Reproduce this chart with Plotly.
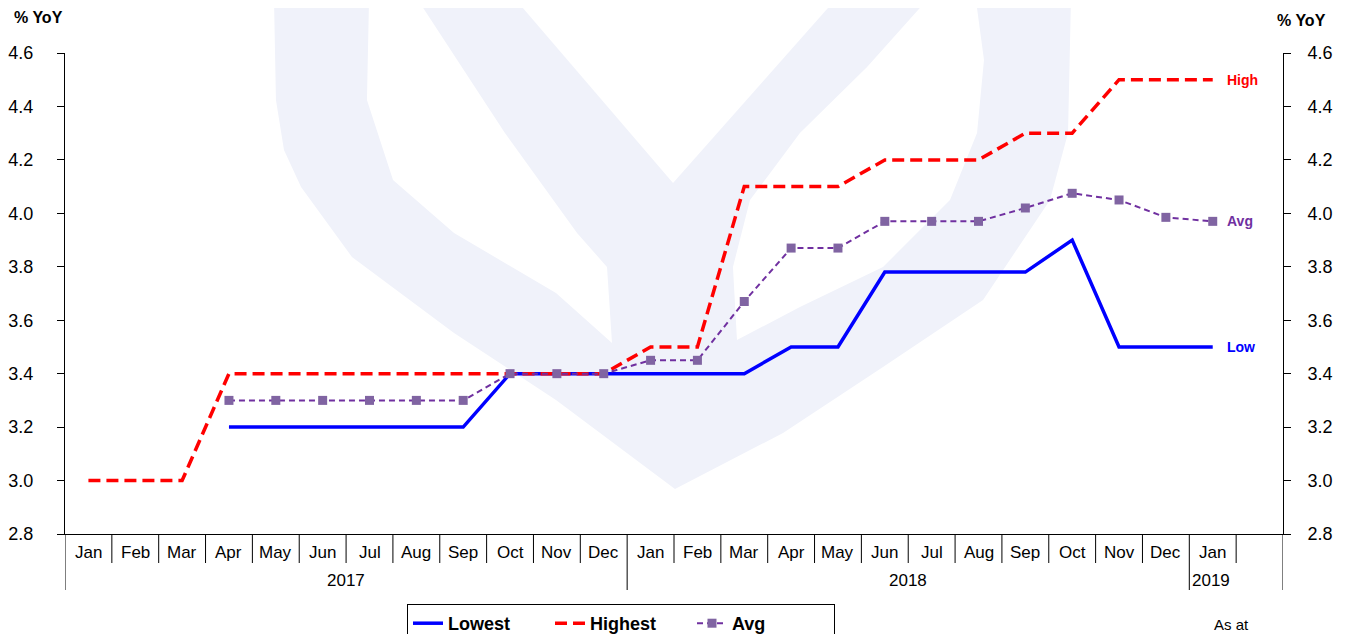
import plotly.graph_objects as go

# ---------------- data ----------------
months = ["Jan", "Feb", "Mar", "Apr", "May", "Jun", "Jul", "Aug", "Sep", "Oct", "Nov", "Dec",
          "Jan", "Feb", "Mar", "Apr", "May", "Jun", "Jul", "Aug", "Sep", "Oct", "Nov", "Dec",
          "Jan"]
years = ["2017", "2018", "2019"]
year_start = [0, 12, 24]          # first month index of each year
year_end = [12, 24, 25]           # one past last month index
n_slots = 26                      # 25 months + one empty slot

highest = [3.0, 3.0, 3.0, 3.4, 3.4, 3.4, 3.4, 3.4, 3.4, 3.4, 3.4, 3.4,
           3.5, 3.5, 4.1, 4.1, 4.1, 4.2, 4.2, 4.2, 4.3, 4.3, 4.5, 4.5, 4.5]
lowest = [None, None, None, 3.2, 3.2, 3.2, 3.2, 3.2, 3.2, 3.4, 3.4, 3.4,
          3.4, 3.4, 3.4, 3.5, 3.5, 3.78, 3.78, 3.78, 3.78, 3.9, 3.5, 3.5, 3.5]
avg = [None, None, None, 3.3, 3.3, 3.3, 3.3, 3.3, 3.3, 3.4, 3.4, 3.4,
       3.45, 3.45, 3.67, 3.87, 3.87, 3.97, 3.97, 3.97, 4.02, 4.075, 4.05, 3.985, 3.97]

y_range = [2.8, 4.6]

# ---------------- layout constants (window pixels) ----------------
WIN_W, WIN_H = 1349, 634
OFF = 8                            # default page body margin
W, H = WIN_W - OFF, WIN_H - OFF
L, R, T, B = 65, 1283, 53, 534     # plot area in window pixels
FONT = "Arial, Liberation Sans, sans-serif"
BLUE, RED, PURPLE, PMARK = "#0000FF", "#FF0000", "#7030A0", "#8064A2"
WM = "#F0F2FA"

x = [i + 0.5 for i in range(len(months))]


def pp(px, py):
    return (px - L) / (R - L), (B - py) / (B - T)


def path_from(points):
    pts = [pp(a, b) for a, b in points]
    s = "M %.4f %.4f " % pts[0]
    for p in pts[1:]:
        s += "L %.4f %.4f " % p
    return s + "Z"


fig = go.Figure()
fig.add_trace(go.Scatter(x=x, y=lowest, name="Lowest", mode="lines",
                         line=dict(color=BLUE, width=3.5)))
fig.add_trace(go.Scatter(x=x, y=highest, name="Highest", mode="lines",
                         line=dict(color=RED, width=3.5, dash="12px,6px")))
fig.add_trace(go.Scatter(x=x, y=avg, name="Avg", mode="lines+markers",
                         line=dict(color=PURPLE, width=2, dash="6px,4px"),
                         marker=dict(symbol="square", size=9, color=PMARK)))
# invisible trace to show the right-hand axis
fig.add_trace(go.Scatter(x=x, y=highest, yaxis="y2", mode="lines", opacity=0,
                         showlegend=False, hoverinfo="skip"))

shapes = []
# watermark (decoration)
outer = [(274, 0), (276, 100), (284, 150), (301, 187), (352, 257), (454, 333), (556, 400),
         (675, 489), (783, 433), (883, 367), (983, 300), (1050, 200), (1068, 133), (1071, 0)]
holeA = [(369, 0), (367, 100), (393, 180), (454, 233), (556, 293), (612, 343),
         (607, 267), (577, 233), (505, 133), (418, 0)]
holeB = [(516, 0), (673, 183), (835, 0)]
holeC = [(927, 0), (867, 67), (800, 133), (750, 200), (733, 267), (737, 340),
         (800, 307), (883, 267), (950, 200), (977, 133), (984, 60), (976, 0)]
shapes.append(dict(type="path", xref="paper", yref="paper", path=path_from(outer),
                   fillcolor=WM, line=dict(width=0), layer="below"))
for hole in (holeA, holeB, holeC):
    shapes.append(dict(type="path", xref="paper", yref="paper", path=path_from(hole),
                       fillcolor="white", line=dict(width=0), layer="below"))

# category dividers
month_bottom = pp(0, 563)[1]
year_bottom = pp(0, 590)[1]
year_lines = set(year_start + [n_slots])
for k in range(0, n_slots + 1):
    yb = year_bottom if k in year_lines else month_bottom
    shapes.append(dict(type="line", xref="x", yref="paper", x0=k, x1=k, y0=0, y1=yb,
                       line=dict(color="black", width=1), layer="above"))

annotations = []
lab_y = pp(0, 552)[1]
for xi, m in zip(x, months):
    annotations.append(dict(x=xi, y=lab_y, xref="x", yref="paper", text=m, showarrow=False,
                            font=dict(family=FONT, size=17, color="black"),
                            xanchor="center", yanchor="middle"))
yr_y = pp(0, 580)[1]
for yr, s, e in zip(years, year_start, year_end):
    if e - s > 1:
        annotations.append(dict(x=(s + e) / 2, y=yr_y, xref="x", yref="paper", text=yr,
                                showarrow=False, font=dict(family=FONT, size=17, color="black"),
                                xanchor="center", yanchor="middle"))
    else:
        annotations.append(dict(x=s, y=yr_y, xref="x", yref="paper", text=yr, xshift=1,
                                showarrow=False, font=dict(family=FONT, size=17, color="black"),
                                xanchor="left", yanchor="middle"))

# end labels
for text, series, col in (("High", highest, RED), ("Avg", avg, PURPLE), ("Low", lowest, BLUE)):
    annotations.append(dict(x=x[-1], y=series[-1], xref="x", yref="y", text=text,
                            xanchor="left", yanchor="middle", xshift=12, showarrow=False,
                            font=dict(family=FONT, size=14, color=col, weight="bold")))

annotations.append(dict(x=pp(39, 0)[0], y=pp(0, 17)[1], xref="paper", yref="paper",
                        text="% YoY", showarrow=False, xanchor="center", yanchor="middle",
                        font=dict(family=FONT, size=16, color="black", weight="bold")))
annotations.append(dict(x=pp(1301, 0)[0], y=pp(0, 20)[1], xref="paper", yref="paper",
                        text="% YoY", showarrow=False, xanchor="center", yanchor="middle",
                        font=dict(family=FONT, size=16, color="black", weight="bold")))
annotations.append(dict(x=pp(1231, 0)[0], y=pp(0, 624)[1], xref="paper", yref="paper",
                        text="As at", showarrow=False, xanchor="center", yanchor="middle",
                        font=dict(family=FONT, size=15, color="black")))

axis_common = dict(range=y_range, dtick=0.2, tickformat=".1f", showgrid=False,
                   zeroline=False, showline=True, linecolor="black", linewidth=1,
                   ticks="outside", ticklen=7, tickcolor="black",
                   tickfont=dict(family=FONT, size=18, color="black"))

fig.update_layout(
    width=W, height=H,
    margin=dict(l=L - OFF, r=W - (R - OFF), t=T - OFF, b=H - (B - OFF), pad=0,
                autoexpand=False),
    paper_bgcolor="white", plot_bgcolor="rgba(0,0,0,0)",
    xaxis=dict(range=[0, n_slots], showticklabels=False, showgrid=False, zeroline=False,
               showline=True, linecolor="black", linewidth=1, ticks=""),
    yaxis=dict(**axis_common, ticklabelstandoff=20),
    yaxis2=dict(**axis_common, overlaying="y", side="right", ticklabelstandoff=13),
    showlegend=True,
    legend=dict(orientation="h", x=pp(621, 0)[0], xanchor="center",
                y=pp(0, 604)[1], yanchor="top",
                bgcolor="white", bordercolor="black", borderwidth=1,
                entrywidth=97, entrywidthmode="pixels",
                font=dict(family=FONT, size=18, color="black", weight="bold"),
                traceorder="normal"),
    shapes=shapes, annotations=annotations,
)

fig.write_html("out.html")
